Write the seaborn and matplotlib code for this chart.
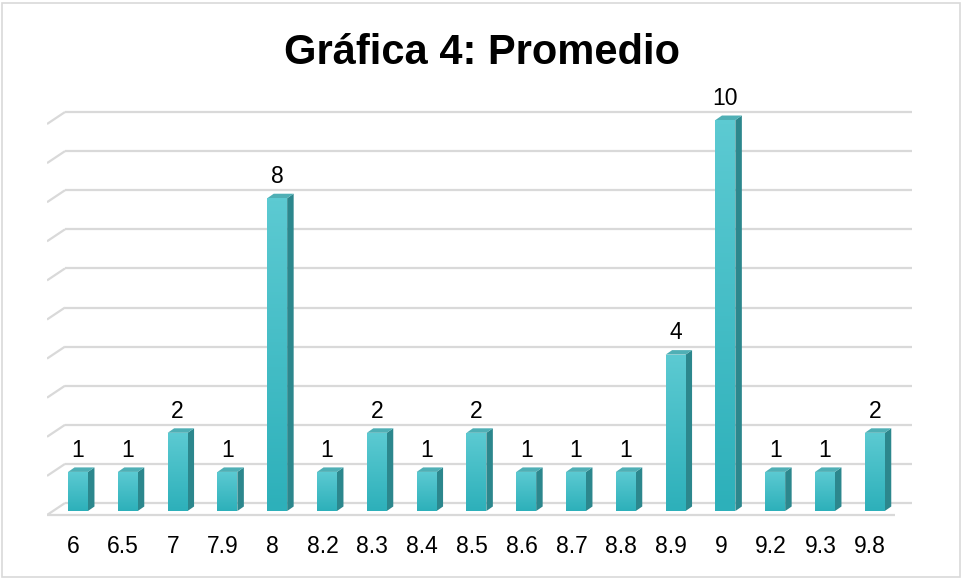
import numpy as np
import pandas as pd
import seaborn as sns
import matplotlib
matplotlib.use("Agg")
import matplotlib.pyplot as plt
import matplotlib.transforms as mtransforms
from matplotlib.patches import Polygon, Rectangle
from matplotlib.colors import LinearSegmentedColormap

# ---- data ----
categories = ["6", "6.5", "7", "7.9", "8", "8.2", "8.3", "8.4", "8.5",
              "8.6", "8.7", "8.8", "8.9", "9", "9.2", "9.3", "9.8"]
counts = [1, 1, 2, 1, 8, 1, 2, 1, 2, 1, 1, 1, 4, 10, 1, 1, 2]
grid_levels = list(range(0, 11))
title = "Gráfica 4: Promedio"

sns.set_theme(style="white")
plt.rcParams['font.family'] = ['Liberation Sans', 'DejaVu Sans']

W, H = 961, 579
fig = plt.figure(figsize=(W / 100, H / 100), dpi=100)
fig.patch.set_facecolor("white")

# axes in pixel terms
L, R, T, B = 47, 912, 95, 520
ax = fig.add_axes([L / W, (H - B) / H, (R - L) / W, (B - T) / H])
ax.set_facecolor("white")

df = pd.DataFrame({"cat": categories, "n": counts})
sns.barplot(data=df, x="cat", y="n", order=categories, color="#45BFC8",
            width=0.4, saturation=1, ax=ax, zorder=3, linewidth=0)

XMIN, XMAX = -0.6225, 16.747
YMIN, YMAX = -0.230, 10.64
pxx = (R - L) / (XMAX - XMIN)
pxy = (B - T) / (YMAX - YMIN)

# depth of bars (3D look)
dx = 6.5 / pxx
dy = 4.5 / pxy

front_cmap = LinearSegmentedColormap.from_list("f", ["#2DB0BA", "#5CCAD2"])

bars = list(ax.patches)
for p in bars:
    x0, w, h = p.get_x(), p.get_width(), p.get_height()
    grad = np.linspace(0, 1, 100).reshape(-1, 1)
    im = ax.imshow(grad, extent=[x0, x0 + w, 0, h], origin="lower",
                   aspect="auto", cmap=front_cmap, zorder=3.1)
    im.set_clip_path(p)
    side = Polygon([(x0 + w, 0), (x0 + w + dx, dy), (x0 + w + dx, h + dy),
                    (x0 + w, h)], closed=True, facecolor="#2C878D",
                   edgecolor="none", zorder=3)
    ax.add_patch(side)
    top = Polygon([(x0, h), (x0 + w, h), (x0 + w + dx, h + dy),
                   (x0 + dx, h + dy)], closed=True, facecolor="#4FAFB5",
                  edgecolor="none", zorder=3)
    ax.add_patch(top)

# perspective gridlines
gc = "#D9D9D9"
back_off = 8 / pxy
front_off = 4 / pxy
back_x0 = XMIN + 18 / pxx
for v in grid_levels:
    ax.plot([back_x0, XMAX], [v + back_off, v + back_off], color=gc, lw=1.6,
            zorder=1, solid_capstyle="butt")
    ax.plot([XMIN, back_x0], [v - front_off, v + back_off], color=gc, lw=1.6,
            zorder=1, solid_capstyle="butt")
# front floor edge
ax.plot([XMIN, (895 - 78) / 49.8], [-front_off, -front_off], color=gc, lw=1.6,
        zorder=1, solid_capstyle="butt")

# data labels
for p, v in zip(bars, counts):
    ax.annotate(str(v), xy=(p.get_x() + p.get_width() / 2, p.get_height()),
                xytext=(0, 11), textcoords="offset points", ha="center",
                va="baseline", fontsize=16.5, color="#000000")

ax.set_xlim(XMIN, XMAX)
ax.set_ylim(YMIN, YMAX)
ax.set_yticks([])
ax.set_xlabel("")
ax.set_ylabel("")
for s in ax.spines.values():
    s.set_visible(False)
ax.tick_params(axis="x", length=0, pad=11, labelsize=16.5, labelcolor="#000000")
shift = mtransforms.ScaledTranslation(-4.5 / 100, 0, fig.dpi_scale_trans)
for lab in ax.get_xticklabels():
    lab.set_transform(lab.get_transform() + shift)

fig.text(482 / W, 1 - 64 / H, title, ha="center", va="baseline",
         fontsize=30, fontweight="bold", color="#000000")

fig.patches.append(Rectangle((1.5 / W, 2 / H), 958.5 / W, 574.5 / H,
                             transform=fig.transFigure, fill=False,
                             edgecolor="#D9D9D9", lw=1.2))

fig.savefig("out.png", dpi=100, facecolor="white")
